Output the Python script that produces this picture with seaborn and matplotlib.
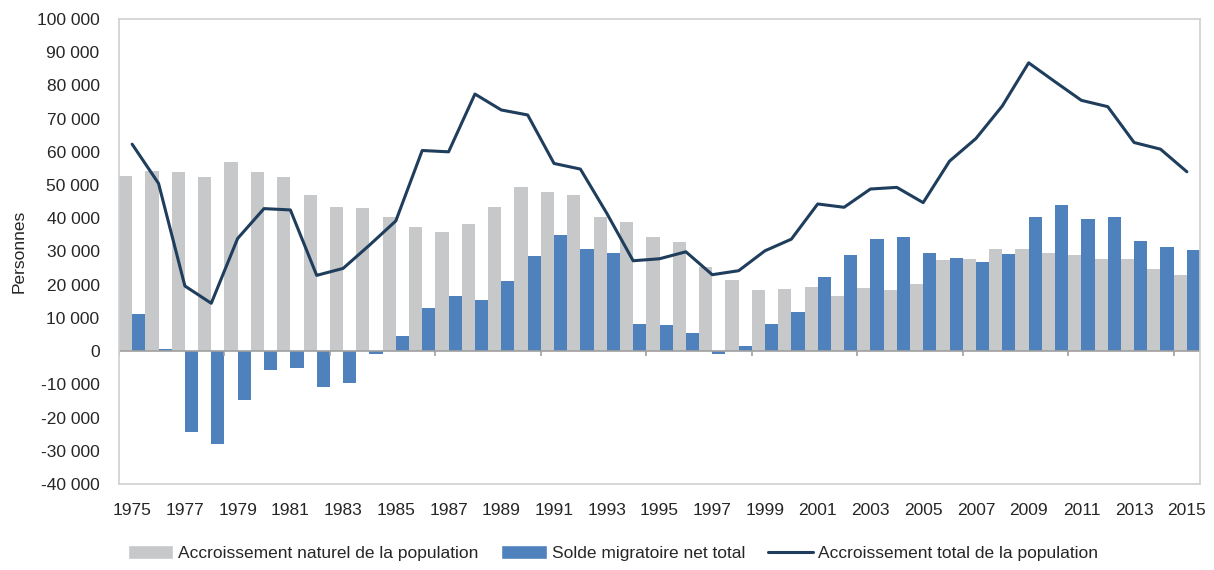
import numpy as np
import pandas as pd
import seaborn as sns
import matplotlib.pyplot as plt
from matplotlib.patches import Patch
from matplotlib.lines import Line2D
from matplotlib.ticker import FuncFormatter

# --------------------------------------------------------------
# Data (personnes par année)
# --------------------------------------------------------------
years = list(range(1975, 2016))

naturel = [52700, 54200, 54000, 52500, 57000, 53900, 52400, 47000, 43500, 43000,
           40300, 37500, 35900, 38300, 43400, 49300, 48000, 47000, 40400, 39000,
           34400, 32800, 25300, 21400, 18500, 18600, 19300, 16700, 18900, 18400,
           20200, 27400, 27700, 30600, 30700, 29500, 28900, 27700, 27700, 24600,
           22900]

migratoire = [11100, 700, -24300, -28100, -14600, -5700, -5100, -10800, -9500, -900,
              4600, 13000, 16700, 15500, 21100, 28700, 35000, 30700, 29400, 8200,
              7800, 5500, -1000, 1600, 8200, 11800, 22300, 28900, 33600, 34400,
              29500, 27900, 26900, 29200, 40500, 44100, 39800, 40300, 33200, 31400,
              30400]

total = [62300, 50500, 19600, 14400, 33900, 42900, 42500, 22800, 24900, 31900,
         39200, 60400, 60000, 77400, 72600, 71100, 56500, 54800, 41500, 27200,
         27800, 29900, 23000, 24200, 30200, 33700, 44300, 43300, 48800, 49300,
         44700, 57200, 64000, 73800, 86800, 81100, 75500, 73600, 62800, 60800,
         54000]

lab_nat = "Accroissement naturel de la population"
lab_mig = "Solde migratoire net total"
lab_tot = "Accroissement total de la population"

c_gray = "#c7c8ca"
c_blue = "#4f81bd"
c_line = "#1f3d5c"

df = pd.DataFrame({
    "annee": [str(y) for y in years] * 2,
    "valeur": naturel + migratoire,
    "serie": [lab_nat] * len(years) + [lab_mig] * len(years),
})

# --------------------------------------------------------------
# Figure
# --------------------------------------------------------------
sns.set_style("white")
plt.rcParams["font.family"] = ["Liberation Sans", "DejaVu Sans"]
fs = 12.5

fig = plt.figure(figsize=(12.14, 5.70), dpi=100)
ax = fig.add_axes([0.098, 0.151, 0.8905, 0.8157])

sns.barplot(data=df, x="annee", y="valeur", hue="serie",
            hue_order=[lab_nat, lab_mig],
            palette={lab_nat: c_gray, lab_mig: c_blue},
            width=1.0, gap=0, legend=False, ax=ax, errorbar=None,
            saturation=1, linewidth=0)

sns.lineplot(x=np.arange(len(years)), y=total, color=c_line, lw=2.2, ax=ax)

ax.set_xlim(-0.5, len(years) - 0.5)
ax.set_ylim(-40000, 100000)
ax.set_yticks(np.arange(-40000, 100001, 10000))
ax.yaxis.set_major_formatter(FuncFormatter(lambda v, p: f"{int(v):,}".replace(",", " ")))

ax.set_xticks(np.arange(0, len(years), 2))
ax.set_xticklabels([str(y) for y in years[::2]])
ax.tick_params(axis="x", length=0, pad=14, labelsize=fs, colors="#262626")
ax.tick_params(axis="y", length=0, pad=14, labelsize=fs, colors="#262626")

# ligne du zéro et petites graduations
ax.axhline(0, color="#a0a0a0", lw=1.2, zorder=1)
ax.vlines(np.arange(-0.5, len(years), 4), -1600, 0, color="#a0a0a0", lw=1.2)

for s in ax.spines.values():
    s.set_color("#d0d0d0")
    s.set_linewidth(1.2)

ax.set_xlabel("")
ax.set_ylabel("Personnes", fontsize=fs, color="#262626", labelpad=7)

handles = [Patch(facecolor=c_gray, label=lab_nat),
           Patch(facecolor=c_blue, label=lab_mig),
           Line2D([0], [0], color=c_line, lw=2.2, label=lab_tot)]
fig.legend(handles=handles, loc="lower center", bbox_to_anchor=(0.505, -0.012),
           ncol=3, frameon=False, fontsize=fs, handlelength=2.6,
           handleheight=0.9, columnspacing=1.3, handletextpad=0.3)

fig.savefig("out.png", dpi=100)
